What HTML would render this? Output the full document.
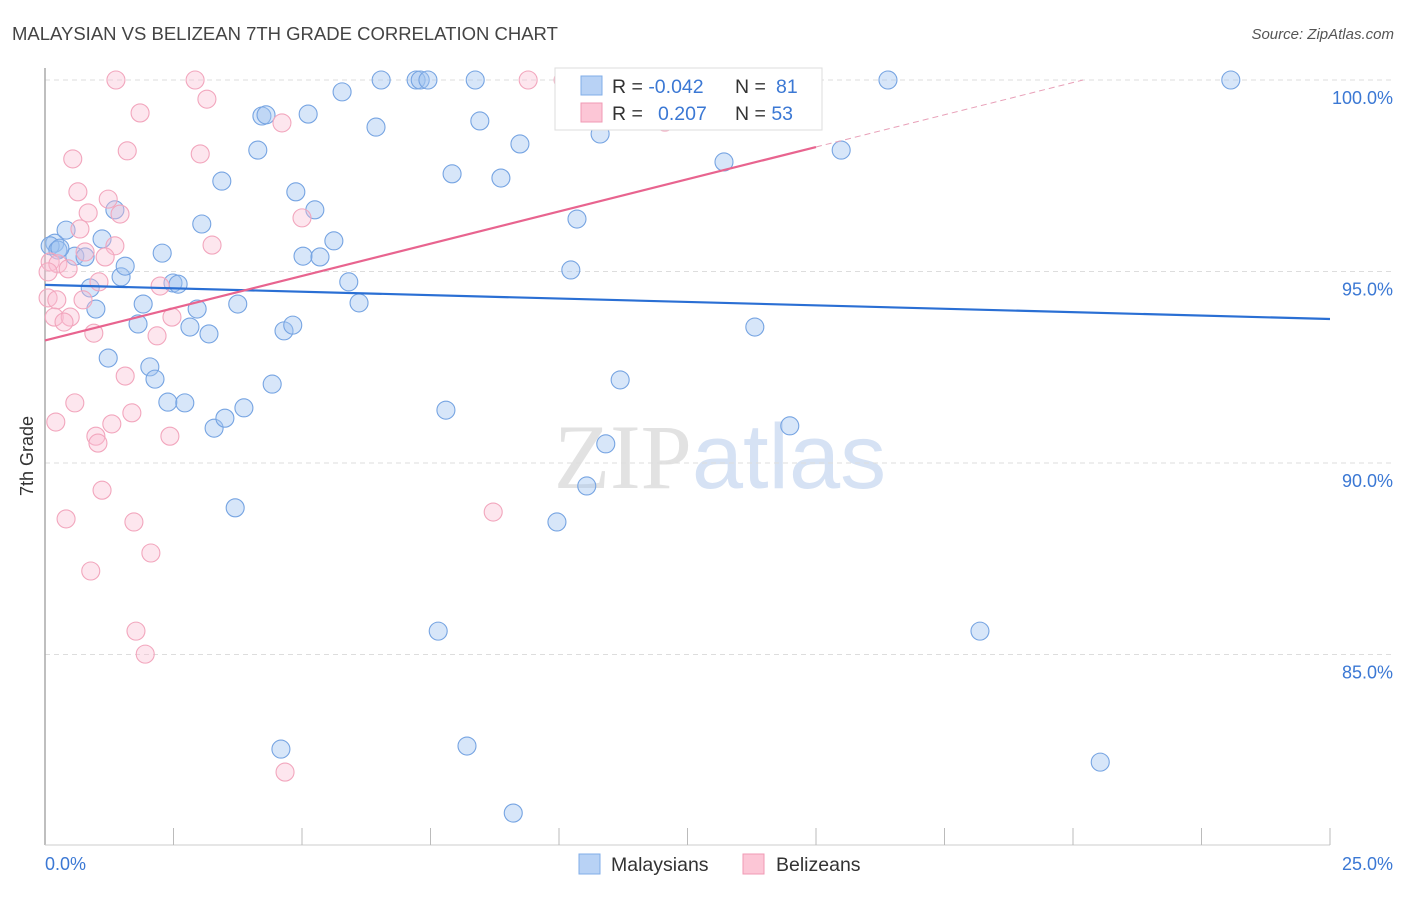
<!DOCTYPE html>
<html><head><meta charset="utf-8"><style>
body{margin:0;background:#fff;font-family:"Liberation Sans",sans-serif}
svg text{font-family:"Liberation Sans",sans-serif}
</style></head><body>
<svg width="1406" height="892" xmlns="http://www.w3.org/2000/svg">
<text x="12" y="40" font-size="18.5" fill="#444">MALAYSIAN VS BELIZEAN 7TH GRADE CORRELATION CHART</text>
<text x="1394" y="39" font-size="15" fill="#555" text-anchor="end" font-style="italic">Source: ZipAtlas.com</text>
<text x="720" y="488" font-size="92" text-anchor="middle"><tspan fill="#e2e2e2" font-family="Liberation Serif">ZIP</tspan><tspan fill="#d6e2f4">atlas</tspan></text>
<g id="grid"></g>
<line x1="45" y1="68" x2="45" y2="845" stroke="#aaa" stroke-width="1.5"/>
<line x1="45" y1="845" x2="1330" y2="845" stroke="#ccc"/>
<g id="xticks"></g>
<text transform="translate(33,456) rotate(-90)" font-size="18" fill="#333" text-anchor="middle">7th Grade</text>
<text x="45" y="870" font-size="18" fill="#3b78d4">0.0%</text>
<text x="1393" y="870" font-size="18" fill="#3b78d4" text-anchor="end">25.0%</text>
<g id="pts"></g>
<g id="trends"></g>
<g>
<rect x="555" y="68" width="267" height="62" fill="#fff" stroke="#ddd"/>
<rect x="581" y="76" width="21" height="19" fill="#b8d2f5" stroke="#80aee8"/>
<rect x="581" y="103" width="21" height="19" fill="#fcc6d6" stroke="#f09ab4"/>
<text x="612" y="93" font-size="19.5" fill="#333">R = <tspan fill="#3b78d4">-0.042</tspan><tspan x="735">N = </tspan><tspan fill="#3b78d4" x="776">81</tspan></text>
<text x="612" y="120" font-size="19.5" fill="#333">R = <tspan fill="#3b78d4" x="658">0.207</tspan><tspan x="735">N = </tspan><tspan fill="#3b78d4">53</tspan></text>
</g>
<g>
<rect x="579" y="854" width="21" height="20" fill="#b8d2f5" stroke="#80aee8"/>
<text x="611" y="871" font-size="19.5" fill="#333">Malaysians</text>
<rect x="743" y="854" width="21" height="20" fill="#fcc6d6" stroke="#f09ab4"/>
<text x="776" y="871" font-size="19.5" fill="#333">Belizeans</text>
</g>
</svg>
<script>
const yTicks=[100,95,90,85];
const yTickLabels=["100.0%","95.0%","90.0%","85.0%"];
const blueX=[0.19,0.10,0.25,0.41,0.58,0.78,0.29,1.11,0.88,0.99,1.36,1.48,1.56,1.23,1.81,1.91,2.04,2.14,2.28,2.39,2.49,2.59,2.72,2.82,2.96,3.05,3.19,3.29,3.44,3.50,3.70,3.75,3.87,4.14,4.22,4.30,4.42,4.65,4.82,4.88,5.02,5.12,5.25,5.35,5.62,5.78,5.91,6.11,6.44,6.54,7.22,7.30,7.45,7.65,7.80,7.92,8.21,8.37,8.46,8.87,9.11,9.24,9.96,10.23,10.35,10.54,10.80,10.91,11.19,11.52,13.21,13.81,14.09,14.49,15.49,16.40,18.19,20.53,23.07,4.59];
const blueY=[95.74,95.67,95.56,96.08,95.40,95.38,95.61,95.85,94.57,94.02,96.61,94.86,95.14,92.74,93.63,94.15,92.51,92.19,95.48,91.59,94.70,94.67,91.57,93.55,94.02,96.24,93.37,90.91,97.36,91.17,88.83,94.15,91.44,98.17,99.06,99.09,92.06,93.45,93.60,97.08,95.40,99.11,96.61,95.38,95.80,99.69,94.73,94.18,98.77,100,100,100,100,85.61,91.38,97.55,82.61,100,98.93,97.44,80.86,98.33,88.46,95.04,96.37,89.40,98.59,90.50,92.17,100,97.86,93.55,100,90.97,98.17,100,85.61,82.19,100,82.53];
const pinkX=[1.38,2.92,9.40,10.08,1.85,3.15,4.61,1.60,3.02,0.54,0.64,1.23,0.84,1.46,5.00,0.68,3.25,1.36,0.78,1.17,0.10,0.25,0.45,1.05,2.24,0.06,0.23,0.74,2.47,0.18,0.49,0.37,0.95,2.18,1.56,0.58,1.69,0.21,1.30,0.99,1.03,2.43,1.11,0.41,1.73,8.72,2.06,0.89,1.77,1.95,4.67,12.06,0.06];
const pinkY=[100,100,100,100,99.14,99.50,98.88,98.15,98.07,97.94,97.08,96.89,96.53,96.50,96.40,96.11,95.69,95.67,95.51,95.38,95.25,95.20,95.07,94.73,94.62,94.31,94.26,94.26,93.81,93.81,93.81,93.68,93.39,93.32,92.27,91.57,91.31,91.07,91.02,90.70,90.52,90.70,89.29,88.54,88.46,88.72,87.65,87.18,85.61,85.01,81.93,98.90,94.99];
const blueTrend=[94.65,93.76];
const pinkTrend=[93.2,0.3367];
const NS="http://www.w3.org/2000/svg";
const sx=v=>45+v/25*1285, sy=v=>80+(100-v)*38.3;
function mk(t,a,p){const e=document.createElementNS(NS,t);for(const k in a)e.setAttribute(k,a[k]);p.appendChild(e);return e;}
const grid=document.getElementById('grid');
yTicks.forEach((t,i)=>{
 const l=mk('line',{x1:45,x2:1393,y1:sy(t),y2:sy(t),stroke:'#ddd','stroke-dasharray':'5,4'},grid);
 
 
 const tx=mk('text',{x:1393,y:sy(t)+24,'font-size':18,fill:'#3b78d4','text-anchor':'end'},grid);
 tx.textContent=yTickLabels[i];
 
 
});
const xt=document.getElementById('xticks');
for(let i=1;i<=10;i++){const l=mk('line',{x1:sx(i*2.5),x2:sx(i*2.5),y1:828,y2:845,stroke:'#bbb'},xt);
 
 }
const pts=document.getElementById('pts');
blueX.forEach((x,i)=>{const c=mk('circle',{cx:sx(x),cy:sy(blueY[i]),r:9,fill:'rgba(160,196,240,0.42)',stroke:'#76a4e2','stroke-width':1.1},pts);
 
 });
pinkX.forEach((x,i)=>{const c=mk('circle',{cx:sx(x),cy:sy(pinkY[i]),r:9,fill:'rgba(250,190,210,0.38)',stroke:'#f2a6bd','stroke-width':1.1},pts);
 
 });
const tr=document.getElementById('trends');
const bl=mk('line',{x1:sx(0),y1:sy(blueTrend[0]),x2:sx(25),y2:sy(blueTrend[1]),stroke:'#2a6fd4','stroke-width':2.2},tr);


const pe=15, pEnd=(100-pinkTrend[0])/pinkTrend[1];
const pl=mk('line',{x1:sx(0),y1:sy(pinkTrend[0]),x2:sx(pe),y2:sy(pinkTrend[0]+pinkTrend[1]*pe),stroke:'#e8648f','stroke-width':2.2},tr);


const pd=mk('line',{x1:sx(pe),y1:sy(pinkTrend[0]+pinkTrend[1]*pe),x2:sx(pEnd),y2:sy(100),stroke:'#e8a0b8','stroke-width':1,'stroke-dasharray':'6,4'},tr);


</script>
</body></html>
